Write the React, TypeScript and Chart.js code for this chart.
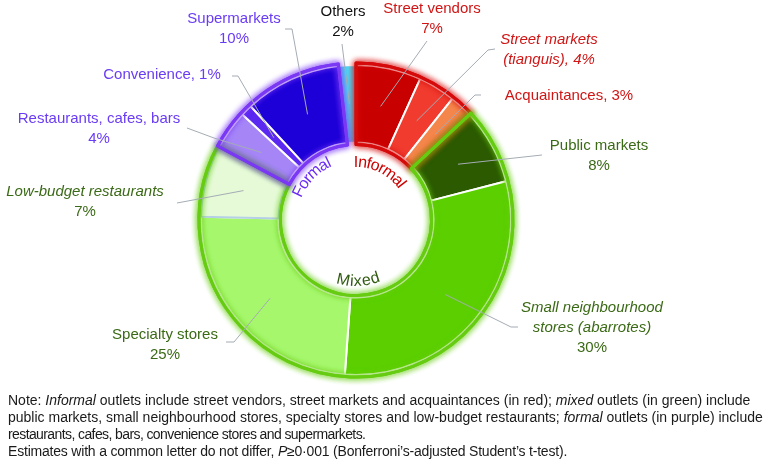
import React, { useEffect, useRef } from "react";
import { Chart, registerables } from "chart.js";

Chart.register(...registerables);

// ---------- data ----------
const categories = [
  "Street vendors",
  "Street markets (tianguis)",
  "Acquaintances",
  "Public markets",
  "Small neighbourhood stores (abarrotes)",
  "Specialty stores",
  "Low-budget restaurants",
  "Restaurants, cafes, bars",
  "Convenience",
  "Supermarkets",
  "Others",
];
const shares = [6.8, 3.9, 2.4, 7.9, 30.2, 24.2, 7.5, 4.1, 1.2, 10.1, 1.8];
const groupOf = [
  "Informal", "Informal", "Informal",
  "Mixed", "Mixed", "Mixed", "Mixed",
  "Formal", "Formal", "Formal",
  "Other",
];
const labelLines = [
  ["Street vendors", "7%"],
  ["Street markets", "(tianguis), 4%"],
  ["Acquaintances, 3%"],
  ["Public markets", "8%"],
  ["Small neighbourhood", "stores (abarrotes)", "30%"],
  ["Specialty stores", "25%"],
  ["Low-budget restaurants", "7%"],
  ["Restaurants, cafes, bars", "4%"],
  ["Convenience, 1%"],
  ["Supermarkets", "10%"],
  ["Others", "2%"],
];
const italicLines = [
  [false, false],
  [true, true],
  [false],
  [false, false],
  [true, true, false],
  [false, false],
  [true, false],
  [false, false],
  [false],
  [false, false],
  [false, false],
];
const groupNames = ["Informal", "Mixed", "Formal"];

// ---------- styles / layout ----------
const segColors = [
  "#c80000", "#f03b2e", "#f5864b",
  "#2c5a00", "#5ccf00", "#a6f76c", "#e6fad8",
  "#a686f7", "#5a28f0", "#1d00d8",
  "#4fd8f5",
];
const segBorders = [
  "#ffffff", "#ffffff", "#ffffff",
  "#ffffff", "#ffffff", "#ffffff", "#b4cfe6",
  "#ffffff", "#ffffff", "#ffffff",
  "#ffffff",
];
const groupColor: Record<string, string> = {
  Informal: "#d60a0a",
  Mixed: "#66cc11",
  Formal: "#7a38f5",
};
const groupTextColor: Record<string, string> = {
  Informal: "#cc0000",
  Mixed: "#2f5a10",
  Formal: "#6a2cf5",
};
const labelColor: Record<string, string> = {
  Informal: "#d01515",
  Mixed: "#3b6a16",
  Formal: "#6a3cf5",
  Other: "#111111",
};
// label centre (x, y of first line)
const labelPos = [
  [432, 9],
  [549, 40],
  [569, 96],
  [599, 146],
  [592, 308],
  [165, 335],
  [85, 192],
  [99, 119],
  [162, 75],
  [234, 19],
  [343, 12],
];
// leader waypoints, from the label side toward the slice
const leaderPts = [
  [[427, 41]],
  [[495, 49], [488, 50]],
  [[481, 95], [475, 95]],
  [[542, 155]],
  [[518, 327], [511, 327]],
  [[226, 342], [234, 342]],
  [[177, 203]],
  [[187, 128], [214, 138]],
  [[232, 76], [238, 76]],
  [[285, 29], [292, 29]],
  [[342, 44]],
];
// curved group captions: [group, centre angle deg (clockwise from top), baseline radius, outward tops?]
const captions: [string, number, number, boolean][] = [
  ["Informal", 26, 53, true],
  ["Formal", 314, 59, true],
  ["Mixed", 178, 66, false],
];
const noteSpacing = [0, 0, -0.6, -0.2];

const FONT = '"Liberation Sans", Arial, sans-serif';

function drawArcText(
  ctx: CanvasRenderingContext2D,
  text: string,
  cx: number,
  cy: number,
  r: number,
  centerDeg: number,
  outward: boolean
) {
  const widths = [...text].map((c) => ctx.measureText(c).width);
  const total = widths.reduce((a, b) => a + b, 0);
  const midR = outward ? r + 6 : r - 6;
  const span = total / midR;
  const c = (centerDeg * Math.PI) / 180;
  let theta = outward ? c - span / 2 : c + span / 2;
  [...text].forEach((ch, i) => {
    const w = widths[i];
    const half = w / 2 / midR;
    ctx.save();
    ctx.translate(cx, cy);
    if (outward) {
      theta += half;
      ctx.rotate(theta);
      ctx.fillText(ch, -w / 2, -r);
      theta += half;
    } else {
      theta -= half;
      ctx.rotate(theta - Math.PI);
      ctx.fillText(ch, -w / 2, r);
      theta -= half;
    }
    ctx.restore();
  });
}

const decorPlugin = {
  id: "decor",
  afterDatasetsDraw(chart: any) {
    const ctx: CanvasRenderingContext2D = chart.ctx;
    const meta = chart.getDatasetMeta(0);
    const arcs = meta.data;
    if (!arcs.length) return;
    const cx = arcs[0].x;
    const cy = arcs[0].y;
    const outer = arcs[0].outerRadius;
    const inner = arcs[0].innerRadius;

    // group outlines with glow
    groupNames.forEach((g) => {
      const idx = groupOf.map((v, i) => (v === g ? i : -1)).filter((i) => i >= 0);
      const s = arcs[idx[0]].startAngle;
      const e = arcs[idx[idx.length - 1]].endAngle;
      ctx.save();
      ctx.strokeStyle = groupColor[g];
      ctx.lineWidth = 3;
      ctx.lineJoin = "round";
      ctx.shadowColor = groupColor[g];
      ctx.shadowBlur = 6;
      ctx.beginPath();
      ctx.arc(cx, cy, outer + 2, s, e);
      ctx.arc(cx, cy, inner - 2, e, s, true);
      ctx.closePath();
      ctx.stroke();
      ctx.stroke();
      ctx.restore();
    });

    // curved captions
    ctx.save();
    ctx.font = `16px ${FONT}`;
    ctx.textBaseline = "alphabetic";
    captions.forEach(([g, deg, r, out]) => {
      ctx.fillStyle = groupTextColor[g];
      drawArcText(ctx, g, cx, cy, r, deg, out);
    });
    ctx.restore();

    // leaders and labels
    ctx.save();
    arcs.forEach((arc: any, i: number) => {
      const mid = (arc.startAngle + arc.endAngle) / 2;
      const rm = (arc.innerRadius + arc.outerRadius) / 2;
      const px = cx + rm * Math.cos(mid);
      const py = cy + rm * Math.sin(mid);
      ctx.strokeStyle = "#a4acb4";
      ctx.lineWidth = 1;
      ctx.beginPath();
      const pts = leaderPts[i];
      ctx.moveTo(pts[0][0], pts[0][1]);
      for (let k = 1; k < pts.length; k++) ctx.lineTo(pts[k][0], pts[k][1]);
      ctx.lineTo(px, py);
      ctx.stroke();

      const [lx, ly] = labelPos[i];
      ctx.fillStyle = labelColor[groupOf[i]];
      ctx.textAlign = "center";
      ctx.textBaseline = "middle";
      labelLines[i].forEach((line, k) => {
        ctx.font = `${italicLines[i][k] ? "italic " : ""}15px ${FONT}`;
        ctx.fillText(line, lx, ly + k * 20);
      });
    });
    ctx.restore();
  },
};

export default function App() {
  const ref = useRef<HTMLCanvasElement | null>(null);
  useEffect(() => {
    if (!ref.current) return;
    const chart = new Chart(ref.current, {
      type: "doughnut",
      data: {
        labels: categories,
        datasets: [
          {
            data: shares,
            backgroundColor: segColors,
            borderColor: segBorders,
            borderWidth: 2,
          },
        ],
      },
      options: {
        responsive: false,
        animation: false,
        radius: 155,
        cutout: "50%",
        layout: { padding: { left: 0, right: 52, top: 0, bottom: 25 } },
        plugins: {
          legend: { display: false },
          tooltip: { enabled: false },
        },
      } as any,
      plugins: [decorPlugin],
    });
    return () => chart.destroy();
  }, []);

  const lineStyle = (k: number) => ({ letterSpacing: `${noteSpacing[k]}px`, height: 17 });

  return (
    <div
      style={{
        position: "fixed",
        left: 0,
        top: 0,
        width: 764,
        height: 465,
        background: "#ffffff",
      }}
    >
      <canvas ref={ref} width={764} height={465} style={{ width: 764, height: 465 }} />
      <div
        style={{
          position: "absolute",
          left: 8,
          top: 392,
          fontFamily: FONT,
          fontSize: 14,
          lineHeight: "17px",
          color: "#1a1a1a",
          whiteSpace: "nowrap",
        }}
      >
        <div style={lineStyle(0)}>
          Note: <i>Informal</i> outlets include street vendors, street markets and acquaintances (in red); <i>mixed</i> outlets (in green) include
        </div>
        <div style={lineStyle(1)}>
          public markets, small neighbourhood stores, specialty stores and low-budget restaurants; <i>formal</i> outlets (in purple) include
        </div>
        <div style={lineStyle(2)}>restaurants, cafes, bars, convenience stores and supermarkets.</div>
        <div style={lineStyle(3)}>
          Estimates with a common letter do not differ, <i>P</i>≥0·001 (Bonferroni’s-adjusted Student’s t-test).
        </div>
      </div>
    </div>
  );
}
